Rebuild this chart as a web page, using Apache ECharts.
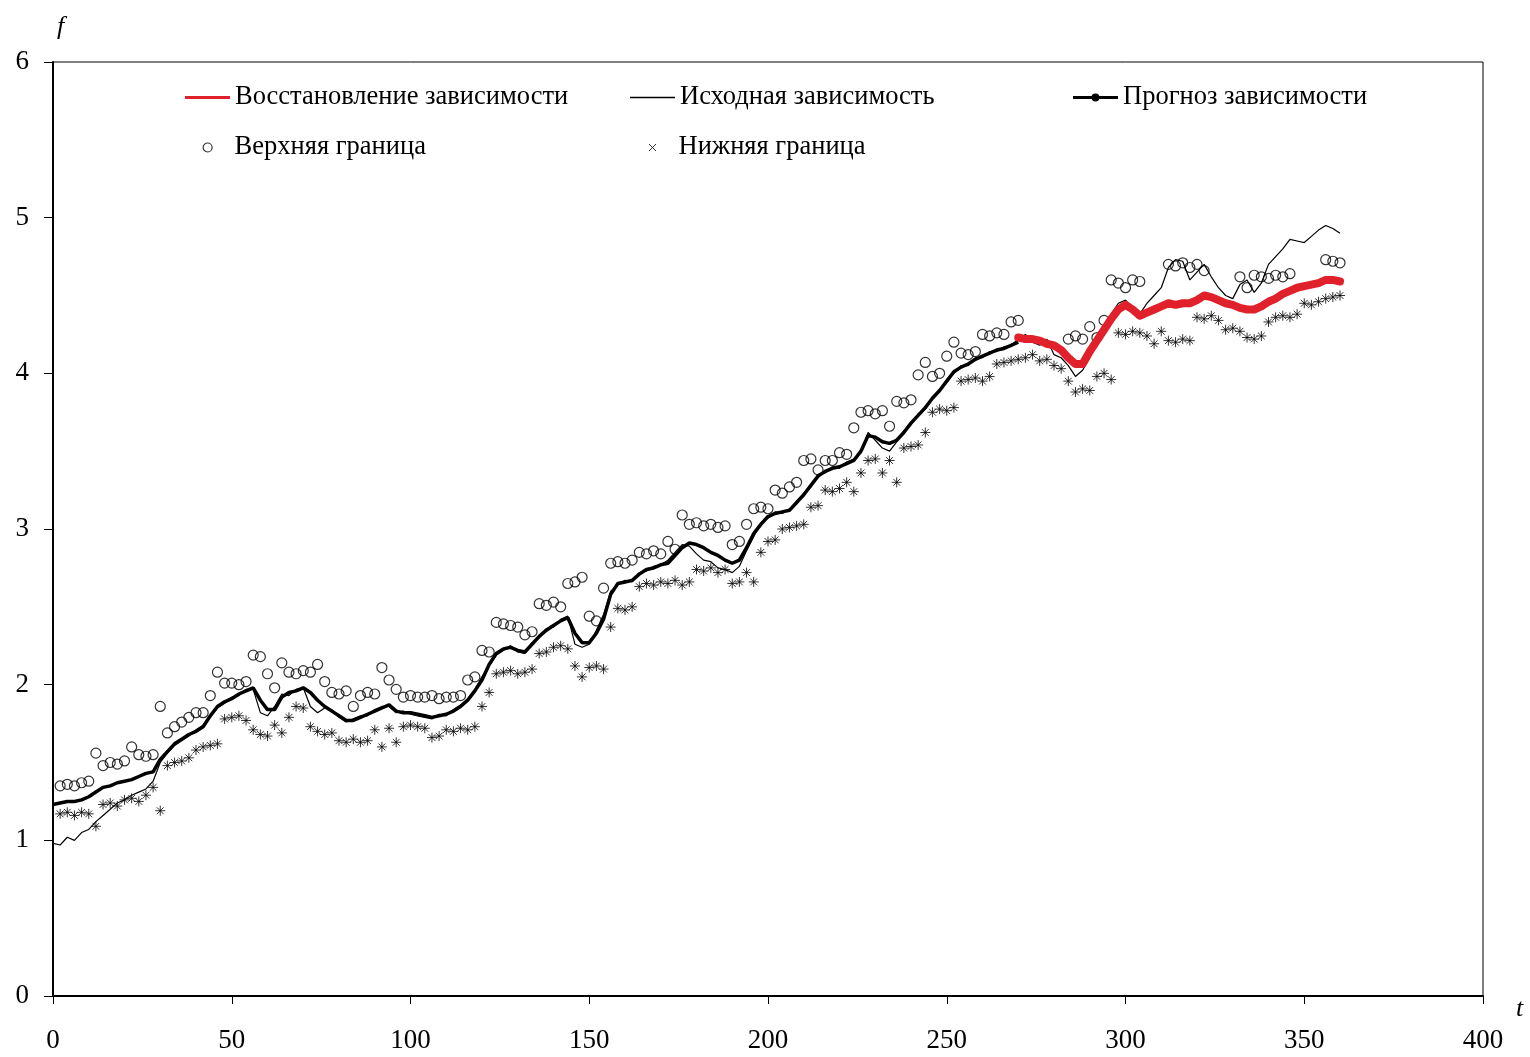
<!DOCTYPE html>
<html>
<head>
<meta charset="utf-8">
<script src="https://cdn.jsdelivr.net/npm/echarts@6/dist/echarts.min.js"></script>
<style>
html,body{margin:0;padding:0;background:#fff;}
#chart{width:1530px;height:1057px;}
</style>
</head>
<body>
<div id="chart"></div>
<script>
// t step for all series: 2
const T_STEP = 2;

// Прогноз зависимости (thick black), t = 0..270
const forecast = [
  1.23,1.24,1.25,1.25,1.26,1.28,1.31,1.34,1.35,1.37,
  1.38,1.39,1.41,1.43,1.44,1.52,1.57,1.62,1.65,1.68,
  1.70,1.73,1.80,1.86,1.89,1.91,1.94,1.96,1.98,1.90,
  1.84,1.84,1.92,1.95,1.96,1.98,1.95,1.90,1.86,1.83,
  1.80,1.77,1.77,1.79,1.81,1.83,1.85,1.87,1.83,1.82,
  1.82,1.81,1.80,1.79,1.80,1.81,1.83,1.86,1.90,1.96,
  2.03,2.13,2.20,2.23,2.24,2.22,2.21,2.26,2.31,2.35,
  2.38,2.41,2.43,2.33,2.27,2.27,2.33,2.42,2.58,2.65,
  2.66,2.67,2.71,2.74,2.75,2.77,2.78,2.83,2.88,2.91,
  2.90,2.88,2.85,2.83,2.80,2.78,2.80,2.88,2.97,3.03,
  3.08,3.10,3.11,3.12,3.17,3.22,3.28,3.34,3.37,3.39,
  3.40,3.42,3.44,3.50,3.60,3.59,3.56,3.55,3.57,3.62,
  3.68,3.73,3.78,3.84,3.89,3.95,4.01,4.04,4.06,4.09,
  4.11,4.13,4.15,4.16,4.18,4.20
];

// Исходная зависимость (thin black), t = 0..360
const original = [
  0.98,0.97,1.02,1.00,1.05,1.07,1.12,1.16,1.20,1.24,
  1.26,1.29,1.31,1.33,1.38,1.50,1.56,1.61,1.64,1.67,
  1.71,1.74,1.79,1.85,1.88,1.92,1.93,1.97,1.97,1.82,
  1.80,1.86,1.94,1.93,1.97,1.98,1.86,1.82,1.85,1.84,
  1.79,1.76,1.78,1.80,1.80,1.84,1.86,1.86,1.82,1.83,
  1.81,1.80,1.79,1.78,1.81,1.80,1.84,1.87,1.91,1.97,
  2.05,2.12,2.19,2.22,2.25,2.21,2.20,2.27,2.30,2.36,
  2.37,2.42,2.44,2.26,2.24,2.26,2.35,2.45,2.60,2.64,
  2.67,2.66,2.72,2.73,2.76,2.77,2.80,2.85,2.90,2.89,
  2.84,2.80,2.79,2.75,2.74,2.72,2.76,2.86,2.95,3.04,
  3.07,3.11,3.10,3.13,3.16,3.23,3.27,3.35,3.36,3.40,
  3.39,3.43,3.45,3.49,3.62,3.57,3.52,3.50,3.56,3.63,
  3.67,3.74,3.77,3.85,3.88,3.96,4.00,4.05,4.05,4.10,
  4.10,4.14,4.14,4.17,4.18,4.22,4.25,4.20,4.18,4.22,
  4.12,4.10,4.05,3.98,4.02,4.10,4.22,4.30,4.38,4.45,
  4.47,4.42,4.38,4.45,4.50,4.55,4.68,4.73,4.72,4.60,
  4.65,4.70,4.62,4.55,4.50,4.48,4.57,4.60,4.52,4.58,
  4.70,4.75,4.80,4.86,4.85,4.84,4.88,4.92,4.95,4.93,
  4.90
];

// Восстановление зависимости (thick red), t = 270..360
const RESTORE_START = 270;
const restored = [
  4.23,4.22,4.22,4.21,4.19,4.18,4.15,4.10,4.06,4.06,
  4.14,4.21,4.28,4.35,4.41,4.44,4.41,4.37,4.39,4.41,
  4.43,4.45,4.44,4.45,4.45,4.47,4.50,4.49,4.47,4.45,
  4.44,4.42,4.41,4.41,4.43,4.46,4.48,4.51,4.53,4.55,
  4.56,4.57,4.58,4.60,4.60,4.59
];

// Верхняя граница (circles), t = 0..360
const upper = [
  null,1.35,1.36,1.35,1.37,1.38,1.56,1.48,1.50,1.49,
  1.51,1.60,1.55,1.54,1.55,1.86,1.69,1.73,1.76,1.79,
  1.82,1.82,1.93,2.08,2.01,2.01,2.00,2.02,2.19,2.18,
  2.07,1.98,2.14,2.08,2.07,2.09,2.08,2.13,2.02,1.95,
  1.94,1.96,1.86,1.93,1.95,1.94,2.11,2.03,1.97,1.92,
  1.93,1.92,1.92,1.93,1.91,1.92,1.92,1.93,2.03,2.05,
  2.22,2.21,2.40,2.39,2.38,2.37,2.32,2.34,2.52,2.51,
  2.53,2.50,2.65,2.66,2.69,2.44,2.41,2.62,2.78,2.79,
  2.78,2.80,2.85,2.84,2.86,2.84,2.92,2.87,3.09,3.03,
  3.04,3.02,3.03,3.01,3.02,2.90,2.92,3.03,3.13,3.14,
  3.13,3.25,3.23,3.27,3.30,3.44,3.45,3.38,3.44,3.44,
  3.49,3.48,3.65,3.75,3.76,3.74,3.76,3.66,3.82,3.81,
  3.83,3.99,4.07,3.98,4.00,4.11,4.20,4.13,4.12,4.14,
  4.25,4.24,4.26,4.25,4.33,4.34,null,null,null,null,
  null,null,4.22,4.24,4.22,4.30,4.23,4.34,4.60,4.58,
  4.55,4.60,4.59,null,null,null,4.70,4.69,4.71,4.68,
  4.70,4.66,null,null,null,null,4.62,4.55,4.63,4.62,
  4.61,4.63,4.62,4.64,null,null,null,null,4.73,4.72,
  4.71
];

// Нижняя граница (asterisks), t = 0..360
const lower = [
  null,1.17,1.18,1.16,1.18,1.17,1.09,1.23,1.24,1.22,
  1.26,1.27,1.25,1.29,1.34,1.19,1.48,1.50,1.51,1.53,
  1.58,1.60,1.61,1.62,1.78,1.79,1.80,1.77,1.71,1.68,
  1.67,1.74,1.69,1.79,1.86,1.85,1.73,1.70,1.68,1.69,
  1.64,1.63,1.65,1.63,1.64,1.71,1.60,1.72,1.63,1.73,
  1.74,1.73,1.72,1.66,1.67,1.71,1.70,1.72,1.71,1.73,
  1.86,1.95,2.07,2.08,2.09,2.07,2.08,2.10,2.20,2.21,
  2.24,2.25,2.23,2.12,2.05,2.11,2.12,2.10,2.37,2.49,
  2.48,2.50,2.63,2.65,2.64,2.66,2.65,2.67,2.64,2.66,
  2.74,2.73,2.75,2.72,2.74,2.65,2.66,2.72,2.66,2.85,
  2.92,2.93,3.00,3.01,3.02,3.03,3.14,3.15,3.25,3.24,
  3.26,3.30,3.24,3.36,3.44,3.45,3.36,3.44,3.30,3.52,
  3.53,3.54,3.62,3.75,3.77,3.76,3.78,3.95,3.96,3.97,
  3.95,3.98,4.06,4.07,4.08,4.09,4.10,4.12,4.08,4.09,
  4.05,4.03,3.95,3.88,3.90,3.89,3.98,4.00,3.96,4.26,
  4.25,4.27,4.26,4.24,4.19,4.27,4.21,4.20,4.22,4.21,
  4.36,4.35,4.37,4.34,4.28,4.29,4.27,4.23,4.22,4.24,
  4.33,4.36,4.37,4.36,4.38,4.45,4.44,4.46,4.48,4.49,
  4.50
];

const xTicks = { min: 0, max: 400, interval: 50 };
const yTicks = { min: 0, max: 6, interval: 1 };

const names = {
  restored: 'Восстановление зависимости',
  original: 'Исходная зависимость',
  forecast: 'Прогноз зависимости',
  upper: 'Верхняя граница',
  lower: 'Нижняя граница'
};

function toPairs(start, vals) {
  const out = [];
  vals.forEach((v, i) => { if (v !== null) out.push([start + i * T_STEP, v]); });
  return out;
}

const FONT = 'Liberation Serif';
const starPath = 'path://M5,0 L5,10 M0,5 L10,5 M1.6,1.6 L8.4,8.4 M8.4,1.6 L1.6,8.4';
const xPath = 'path://M0,0 L8,8 M8,0 L0,8';
const forecastIcon = 'path://M0,4 L45,4 L45,7 L0,7 Z M18.5,5.5 A4,4 0 1 1 26.5,5.5 A4,4 0 1 1 18.5,5.5 Z';

function legendAt(left, top, item, w, h, textPad) {
  return {
    left: left, top: top, orient: 'horizontal', padding: 0,
    itemWidth: w, itemHeight: h, itemGap: 0,
    textStyle: { fontFamily: FONT, fontSize: 26.5, color: '#000', padding: [0, 0, 0, textPad || 0] },
    selectedMode: false,
    data: [item]
  };
}

const chart = echarts.init(document.getElementById('chart'), null, { renderer: 'canvas' });
chart.setOption({
  backgroundColor: '#fff',
  animation: false,
  grid: {
    left: 53, right: 47, top: 62, bottom: 61,
    show: true, borderColor: '#000', borderWidth: 1, backgroundColor: 'transparent'
  },
  legend: [
    legendAt(185, 84, { name: names.restored, icon: 'rect', itemStyle: { color: '#e0202a' } }, 45, 3),
    legendAt(630, 84, { name: names.original, icon: 'rect', itemStyle: { color: '#000' } }, 45, 1.5),
    legendAt(1073, 84, { name: names.forecast, icon: forecastIcon, itemStyle: { color: '#000' } }, 45, 8),
    legendAt(202.5, 134, { name: names.upper, icon: 'circle', itemStyle: { color: 'rgba(0,0,0,0)', borderColor: '#000', borderWidth: 1.2 } }, 9, 9, 17.5),
    legendAt(648.5, 134, { name: names.lower, icon: xPath, itemStyle: { color: 'rgba(0,0,0,0)', borderColor: '#000', borderWidth: 1 } }, 7, 7, 17.5)
  ],
  xAxis: {
    type: 'value', min: xTicks.min, max: xTicks.max, interval: xTicks.interval,
    name: 't', nameLocation: 'end', nameGap: 33,
    nameTextStyle: { fontFamily: FONT, fontStyle: 'italic', fontSize: 26, color: '#000', verticalAlign: 'top', padding: [0, 0, 0, 0] },
    axisLine: { show: true, onZero: false, lineStyle: { color: '#000', width: 2 } },
    axisTick: { show: true, inside: false, length: 8, lineStyle: { color: '#000', width: 1 } },
    axisLabel: { margin: 31, fontFamily: FONT, fontSize: 27, color: '#000' },
    splitLine: { show: false }
  },
  yAxis: {
    type: 'value', min: yTicks.min, max: yTicks.max, interval: yTicks.interval,
    name: 'f', nameLocation: 'end', nameGap: 22,
    nameTextStyle: { fontFamily: FONT, fontStyle: 'italic', fontSize: 26, color: '#000', align: 'left', padding: [0, 0, 0, 4] },
    axisLine: { show: true, onZero: false, lineStyle: { color: '#000', width: 2 } },
    axisTick: { show: true, inside: false, length: 9, lineStyle: { color: '#000', width: 1 } },
    axisLabel: { margin: 24, fontFamily: FONT, fontSize: 27, color: '#000' },
    splitLine: { show: false }
  },
  series: [
    {
      name: names.upper, type: 'scatter', z: 1,
      symbol: 'circle', symbolSize: 10,
      itemStyle: { color: 'rgba(0,0,0,0)', borderColor: '#000', borderWidth: 1.2 },
      data: toPairs(0, upper)
    },
    {
      name: names.lower, type: 'scatter', z: 1,
      symbol: starPath, symbolSize: 10,
      itemStyle: { color: 'rgba(0,0,0,0)', borderColor: '#000', borderWidth: 1 },
      data: toPairs(0, lower)
    },
    {
      name: names.original, type: 'line', z: 2, color: '#000',
      showSymbol: false, symbol: 'none',
      lineStyle: { color: '#000', width: 1.2 },
      data: toPairs(0, original)
    },
    {
      name: names.forecast, type: 'line', z: 3, color: '#000',
      showSymbol: false, symbol: 'none',
      lineStyle: { color: '#000', width: 3.5 },
      data: toPairs(0, forecast)
    },
    {
      name: names.restored, type: 'line', z: 4, color: '#e0202a',
      showSymbol: false, symbol: 'none',
      lineStyle: { color: '#e0202a', width: 8, join: 'round', cap: 'round' },
      data: toPairs(RESTORE_START, restored)
    }
  ]
});
</script>
</body>
</html>
